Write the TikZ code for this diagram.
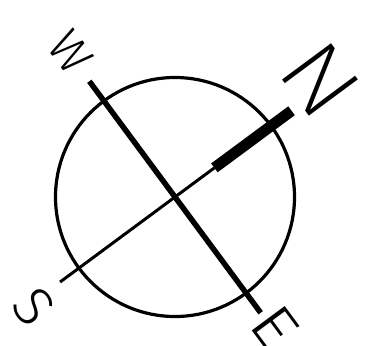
\documentclass[tikz,border=0pt]{standalone}
\usepackage{fontspec}
\usepackage{graphicx}
\newfontfamily\lightfont{Fira Sans Light}
\newfontfamily\xlightfont{Fira Sans ExtraLight}
\begin{document}
\begin{tikzpicture}[x=1pt,y=-1pt,
  ring/.style={circle,draw,line width=3.2pt,minimum size=239pt,inner sep=0pt},
  axisWE/.style={line width=5.5pt},
  axisS/.style={line width=3pt},
  needle/.style={line width=11pt},
  letter/.style={inner sep=0pt,rotate=-53.5}]
\useasboundingbox (0,0) rectangle (381,346);
\coordinate (C) at (175,197);
\node[ring] (rim) at (C) {};
\path (C) ++(-126.5:144) coordinate (Wend);
\path (C) ++(53.5:144) coordinate (Eend);
\path (C) ++(143.5:143) coordinate (Send);
\path (C) ++(-36.5:49) coordinate (Nbar);
\path (C) ++(-36.5:145) coordinate (Nend);
\draw[axisWE] (Wend) -- (Eend);
\draw[axisS] (Send) -- (Nbar);
\draw[needle] (Nbar) -- (Nend);
\node[letter,xscale=0.98] (W) at (70.7,52.2) {\resizebox{!}{33.5pt}{\lightfont W}};
\node[letter,xscale=1.15] (N) at (320.5,79.5) {\resizebox{!}{61pt}{\xlightfont N}};
\node[letter,xscale=1.05] (S) at (33.8,307) {\resizebox{!}{38pt}{\lightfont S}};
\node[letter,xscale=1.2] (E) at (275,327) {\resizebox{!}{41pt}{\lightfont E}};
\end{tikzpicture}
\end{document}
